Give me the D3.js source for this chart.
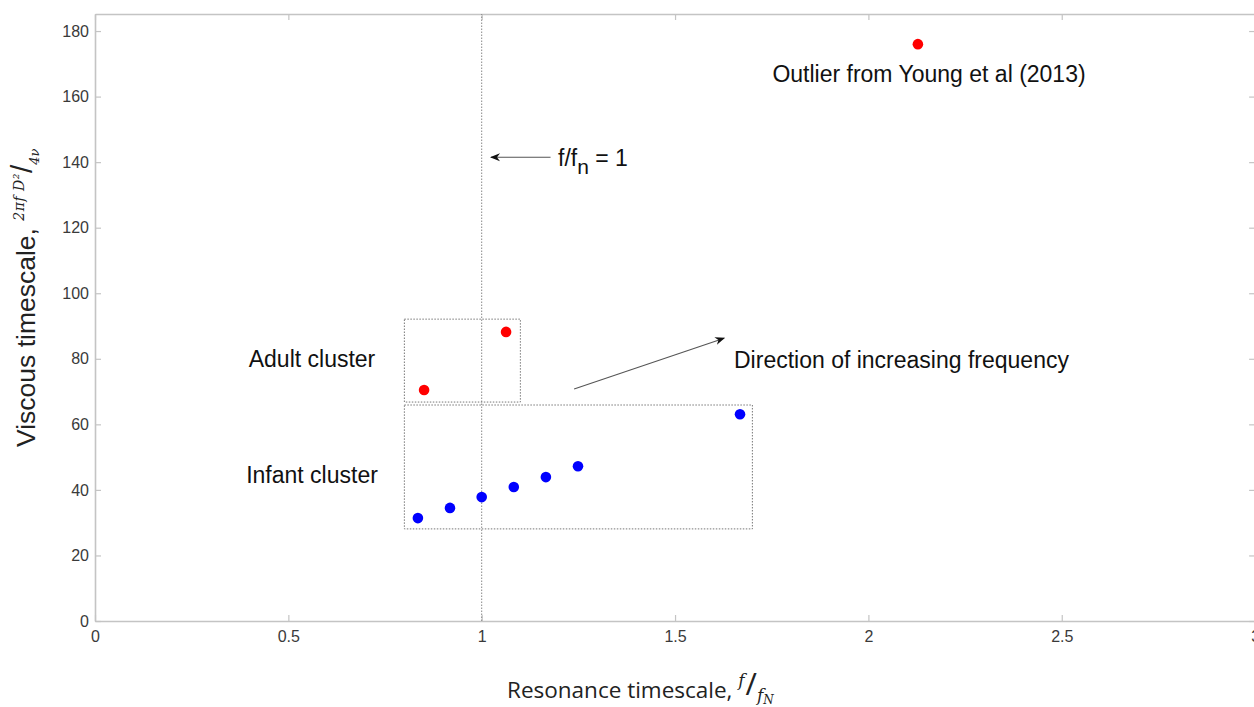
<!DOCTYPE html>
<html>
<head>
<meta charset="utf-8">
<script src="https://cdn.jsdelivr.net/npm/d3@7"></script>
<style>
  body { margin: 0; background: #fff; }
  svg { display: block; font-family: "Liberation Sans", Arial, sans-serif; }
</style>
</head>
<body>
<div id="chart"></div>
<script>
// infant cluster (blue)
const infantX = [0.835, 0.918, 1.0, 1.083, 1.166, 1.249, 1.668];
const infantY = [31.4, 34.5, 37.8, 40.9, 43.9, 47.2, 63.1];
// adult cluster + outlier (red)
const adultX = [0.851, 1.063];
const adultY = [70.5, 88.2];
const outlierX = [2.128];
const outlierY = [176];

const xTicks = [0, 0.5, 1, 1.5, 2, 2.5, 3];
const yTicks = [0, 20, 40, 60, 80, 100, 120, 140, 160, 180];

// annotation boxes / arrows in data units
const adultBox = {x0: 0.80, x1: 1.10, y0: 66.8, y1: 92.1};
const infantBox = {x0: 0.80, x1: 1.70, y0: 28.1, y1: 65.9};
const freqArrow = {x0: 1.239, y0: 70.8, x1: 1.627, y1: 86.3};
const unityArrow = {x0: 1.178, y0: 141.5, x1: 1.024, y1: 141.5};

const width = 1254, height = 707;
const margin = {left: 95, top: 14};
const plotW = 3 * 386.7, plotH = 607;

const svg = d3.select('#chart').append('svg')
  .attr('width', width)
  .attr('height', height);

const x = d3.scaleLinear().domain([0, 3]).range([margin.left, margin.left + plotW]);
const y = d3.scaleLinear().domain([0, 185.2]).range([margin.top + plotH, margin.top]);

const axisColor = '#c4c4c4';
const textColor = '#3a3a3a';

svg.append('defs').append('marker')
  .attr('id', 'arrow')
  .attr('viewBox', '0 0 10 10')
  .attr('refX', 9).attr('refY', 5)
  .attr('markerWidth', 10).attr('markerHeight', 10)
  .attr('markerUnits', 'userSpaceOnUse')
  .attr('orient', 'auto')
  .append('path')
  .attr('d', 'M0,1 L10,5 L0,9 L3,5 Z')
  .attr('fill', '#111');

// axes (box with inward ticks on all sides)
function styleAxis(g) {
  g.select('.domain').attr('stroke', axisColor).attr('stroke-width', 1.6);
  g.selectAll('.tick line').attr('stroke', axisColor).attr('stroke-width', 1.2);
  g.selectAll('.tick text').attr('fill', textColor).style('font-size', '16px');
}

svg.append('g')
  .attr('transform', `translate(0,${y(0)})`)
  .call(d3.axisBottom(x).tickValues(xTicks).tickSize(-6).tickSizeOuter(0).tickPadding(10).tickFormat(d3.format('')))
  .call(styleAxis);
svg.append('g')
  .attr('transform', `translate(0,${margin.top})`)
  .call(d3.axisTop(x).tickValues(xTicks).tickSize(-6).tickSizeOuter(0).tickFormat(''))
  .call(styleAxis);
svg.append('g')
  .attr('transform', `translate(${margin.left},0)`)
  .call(d3.axisLeft(y).tickValues(yTicks).tickSize(-6).tickSizeOuter(0).tickPadding(6))
  .call(styleAxis);
svg.append('g')
  .attr('transform', `translate(${margin.left + plotW},0)`)
  .call(d3.axisRight(y).tickValues(yTicks).tickSize(-6).tickSizeOuter(0).tickFormat(''))
  .call(styleAxis);

// vertical reference line at f/fn = 1
svg.append('line')
  .attr('x1', x(1)).attr('x2', x(1))
  .attr('y1', y(0)).attr('y2', margin.top)
  .attr('stroke', '#888').attr('stroke-width', 1)
  .attr('stroke-dasharray', '1.5,1.5');

// cluster boxes
[adultBox, infantBox].forEach(b => {
  svg.append('rect')
    .attr('x', x(b.x0)).attr('y', y(b.y1))
    .attr('width', x(b.x1) - x(b.x0))
    .attr('height', y(b.y0) - y(b.y1))
    .attr('fill', 'none')
    .attr('stroke', '#777').attr('stroke-width', 1)
    .attr('stroke-dasharray', '1.5,1.5');
});

// arrows
[freqArrow, unityArrow].forEach(a => {
  svg.append('line')
    .attr('x1', x(a.x0)).attr('y1', y(a.y0))
    .attr('x2', x(a.x1)).attr('y2', y(a.y1))
    .attr('stroke', '#555').attr('stroke-width', 1.1)
    .attr('marker-end', 'url(#arrow)');
});

// points
const infant = infantX.map((v, i) => ({x: v, y: infantY[i]}));
const red = adultX.map((v, i) => ({x: v, y: adultY[i]}))
  .concat(outlierX.map((v, i) => ({x: v, y: outlierY[i]})));

svg.append('g').selectAll('circle')
  .data(infant)
  .enter().append('circle')
  .attr('cx', d => x(d.x)).attr('cy', d => y(d.y))
  .attr('r', 5.3).attr('fill', '#0000ff');

svg.append('g').selectAll('circle')
  .data(red)
  .enter().append('circle')
  .attr('cx', d => x(d.x)).attr('cy', d => y(d.y))
  .attr('r', 5.3).attr('fill', '#ff0000');

// annotation texts
const annot = svg.append('g').attr('fill', '#111').style('font-size', '23px');
annot.append('text').attr('x', 929).attr('y', 82).attr('text-anchor', 'middle').text('Outlier from Young et al (2013)');
annot.append('text').attr('x', 312).attr('y', 367).attr('text-anchor', 'middle').text('Adult cluster');
annot.append('text').attr('x', 312).attr('y', 483).attr('text-anchor', 'middle').text('Infant cluster');
annot.append('text').attr('x', 734).attr('y', 368).text('Direction of increasing frequency');

const fn = annot.append('text').attr('x', 558).attr('y', 166);
fn.append('tspan').text('f/f');
fn.append('tspan').attr('dy', 8).style('font-size', '21px').text('n');
fn.append('tspan').attr('dy', -8).text(' = 1');

// x axis label
const serifItalic = sel => sel.style('font-family', '"DejaVu Serif", serif').style('font-style', 'italic');
const xl = svg.append('text')
  .attr('x', 507).attr('y', 698)
  .attr('fill', '#222')
  .style('font-family', '"Open Sans", sans-serif')
  .style('font-size', '22.5px');
xl.append('tspan').text('Resonance timescale, ');
xl.append('tspan').attr('dy', -12).call(serifItalic).style('font-size', '17px').text('f');
xl.append('tspan').attr('dy', 9).attr('dx', 1).style('font-size', '31px').text('/');
xl.append('tspan').attr('dy', 6).call(serifItalic).style('font-size', '17px').text('f');
xl.append('tspan').attr('dy', 3).call(serifItalic).style('font-size', '12px').text('N');

// y axis label
const yl = svg.append('text')
  .attr('transform', 'translate(35,447) rotate(-90)')
  .attr('fill', '#222')
  .style('font-size', '26.5px');
yl.append('tspan').text('Viscous timescale, ');
yl.append('tspan').attr('dy', -11).call(serifItalic).style('font-size', '14px').style('letter-spacing', '0.5px').text('2πf D²');
yl.append('tspan').attr('dy', 8).style('font-size', '30px').text('/');
yl.append('tspan').attr('dy', 7).call(serifItalic).style('font-size', '13px').text('4ν');
</script>
</body>
</html>
